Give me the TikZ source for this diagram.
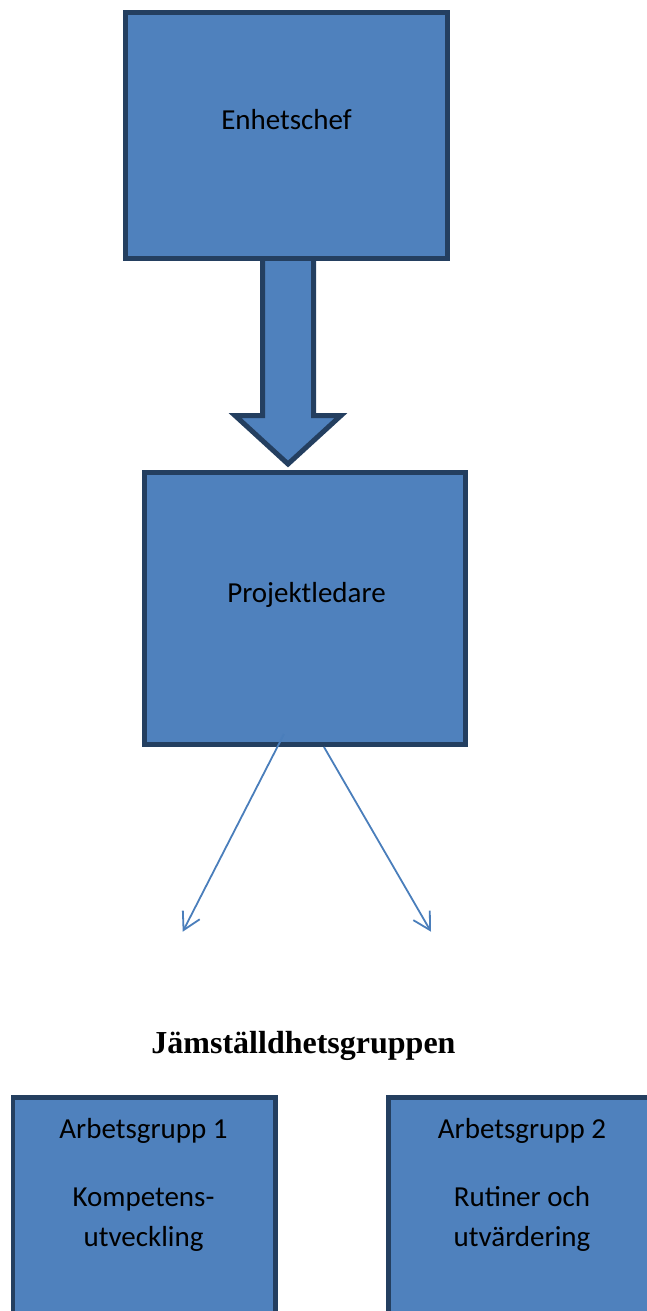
\documentclass[tikz,border=0pt]{standalone}
\usepackage{fontspec}
\setmainfont{Carlito}
\newfontfamily\timesfont{Liberation Serif}
\usetikzlibrary{arrows.meta}
\definecolor{boxfill}{HTML}{4F81BD}
\definecolor{boxline}{HTML}{243F60}
\definecolor{thinblue}{HTML}{4A7EBB}
\begin{document}
\begin{tikzpicture}[x=1pt,y=-1pt,
  box/.style={draw=boxline, fill=boxfill, line width=5pt, inner sep=0pt, outer sep=0pt},
  lowbox/.style={draw=boxline, fill=boxfill, line width=4.5pt, inner sep=0pt, outer sep=0pt},
  lbl/.style={font=\fontsize{29}{40}\selectfont, text=black, inner sep=0pt, anchor=base},
  thinarrow/.style={draw=thinblue, line width=1.8pt, -{Straight Barb[length=17pt,width=19pt]}}]
\useasboundingbox (0,0) rectangle (647,1311);
% big block arrow
\draw[draw=boxline, fill=boxfill, line width=5pt, line join=miter]
  (262.5,258) -- (313.5,258) -- (313.5,415.5) -- (341,415.5) -- (288,464)
  -- (235,415.5) -- (262.5,415.5) -- cycle;
% top box
\node[box, minimum width=322pt, minimum height=246pt] (ec) at (286.5,135.5) {};
\node[lbl] (ect) at (286.5,130) {Enhetschef};
% project leader box
\node[box, minimum width=321pt, minimum height=272pt] (pl) at (305,608.5) {};
\node[lbl] (plt) at (306.5,602.7) {Projektledare};
% thin arrows
\coordinate (t1) at (182.7,931.7);
\coordinate (t2) at (431,931.7);
\draw[thinarrow] ([xshift=-21pt,yshift=10.5pt]pl.south) -- (t1);
\draw[thinarrow] ([xshift=19pt,yshift=-2.5pt]pl.south) -- (t2);
% title
\node[font=\timesfont\bfseries\fontsize{32}{38}\selectfont, inner sep=0pt, anchor=base] (jg) at (303.5,1053) {Jämställdhetsgruppen};
% bottom boxes
\node[lowbox, minimum width=262.5pt, minimum height=260pt, anchor=north west] (ag1) at (12.9,1097.3) {};
\node[lowbox, minimum width=262.5pt, minimum height=260pt, anchor=north west] (ag2) at (388.5,1097.3) {};
\node[lbl] (ag1a) at (143.5,1138.3) {Arbetsgrupp 1};
\node[lbl] (ag1b) at (143.5,1206.5) {Kompetens-};
\node[lbl] (ag1c) at (143.5,1246.5) {utveckling};
\node[lbl] (ag2a) at (522,1138.3) {Arbetsgrupp 2};
\node[lbl] (ag2b) at (522,1206.5) {Rutiner och};
\node[lbl] (ag2c) at (522,1246.5) {utvärdering};
\end{tikzpicture}
\end{document}
